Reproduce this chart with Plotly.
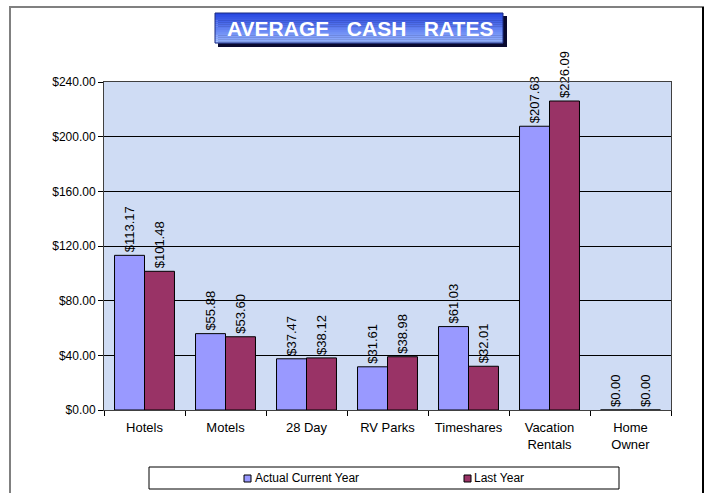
import plotly.graph_objects as go

categories = ["Hotels", "Motels", "28 Day", "RV Parks", "Timeshares", "Vacation<br>Rentals", "Home<br>Owner"]
actual_current_year = [113.17, 55.88, 37.47, 31.61, 61.03, 207.63, 0.00]
last_year = [101.48, 53.60, 38.12, 38.98, 32.01, 226.09, 0.00]
y_ticks = [0, 40, 80, 120, 160, 200, 240]
series_names = ["Actual Current Year", "Last Year"]
series_colors = ["#9999ff", "#993366"]

W, H = 710, 493
PL, PR, PT, PB = 104, 671, 82, 410  # plot area in pixels


def px(x):
    return (x - PL) / (PR - PL)


def py(y):
    return (PB - y) / (PB - PT)


fig = go.Figure()
for name, vals, col in zip(series_names, [actual_current_year, last_year], series_colors):
    fig.add_trace(go.Bar(
        x=categories, y=vals, name=name,
        marker=dict(color=col, line=dict(color="black", width=1)),
        text=["${:.2f}".format(v) for v in vals],
        textposition="outside", textangle=-90, constraintext="none",
        textfont=dict(family="Arial", size=13, color="black"),
        cliponaxis=False, showlegend=False,
    ))

shapes = []
# outer chart border
shapes.append(dict(type="rect", xref="paper", yref="paper",
                   x0=px(10), x1=px(703), y0=py(7), y1=py(500),
                   line=dict(color="#808080", width=2), fillcolor="rgba(0,0,0,0)", layer="below"))
shapes.append(dict(type="line", xref="paper", yref="paper",
                   x0=px(703), x1=px(703), y0=py(7), y1=py(500),
                   line=dict(color="black", width=2)))
# title box shadow
shapes.append(dict(type="rect", xref="paper", yref="paper",
                   x0=px(218), x1=px(507), y0=py(16), y1=py(47),
                   line=dict(width=0), fillcolor="#0a0a30"))
# title gradient box
n = 16
top_c = (40, 72, 225)
bot_c = (150, 180, 255)
y_top, y_bot = 13, 43
for i in range(n):
    t = i / (n - 1)
    c = tuple(int(top_c[k] + (bot_c[k] - top_c[k]) * t) for k in range(3))
    ya = y_top + (y_bot - y_top) * i / n
    yb = y_top + (y_bot - y_top) * (i + 1) / n
    shapes.append(dict(type="rect", xref="paper", yref="paper",
                       x0=px(215), x1=px(503), y0=py(ya), y1=py(yb + 0.3),
                       line=dict(width=0), fillcolor="rgb(%d,%d,%d)" % c))
shapes.append(dict(type="rect", xref="paper", yref="paper",
                   x0=px(215), x1=px(503), y0=py(y_top), y1=py(y_bot),
                   line=dict(color="#1a2a80", width=1), fillcolor="rgba(0,0,0,0)"))
# legend box
shapes.append(dict(type="rect", xref="paper", yref="paper",
                   x0=px(149), x1=px(619), y0=py(467), y1=py(489),
                   line=dict(color="black", width=1), fillcolor="white"))
# legend markers
for x0, col in [(244, series_colors[0]), (464, series_colors[1])]:
    shapes.append(dict(type="rect", xref="paper", yref="paper",
                       x0=px(x0), x1=px(x0 + 7), y0=py(475), y1=py(482),
                       line=dict(color="black", width=1), fillcolor=col))

sp = "\u00a0\u00a0\u00a0"
annotations = [
    dict(text="AVERAGE" + sp + "CASH" + sp + "RATES", xref="paper", yref="paper",
         x=px(360), y=py(28.5), xanchor="center", yanchor="middle", showarrow=False,
         font=dict(family="Arial", size=21, color="white", weight="bold")),
    dict(text=series_names[0], xref="paper", yref="paper", x=px(253), y=py(478.5),
         xanchor="left", yanchor="middle", showarrow=False,
         font=dict(family="Arial", size=12, color="black")),
    dict(text=series_names[1], xref="paper", yref="paper", x=px(472), y=py(478.5),
         xanchor="left", yanchor="middle", showarrow=False,
         font=dict(family="Arial", size=12, color="black")),
]

fig.update_layout(
    width=W, height=H,
    margin=dict(l=PL, r=W - PR, t=PT, b=H - PB, pad=0),
    paper_bgcolor="white", plot_bgcolor="#cfdcf4",
    barmode="group", bargap=0.26, bargroupgap=0,
    showlegend=False,
    shapes=shapes, annotations=annotations,
    font=dict(family="Arial", size=12, color="black"),
)
fig.update_yaxes(range=[0, 240], tickvals=y_ticks, tickformat="$.2f",
                 showgrid=True, gridcolor="black", gridwidth=1,
                 ticks="outside", ticklen=5, tickcolor="black",
                 showline=True, linecolor="#404040", linewidth=1, mirror=True,
                 zeroline=False, tickfont=dict(family="Arial", size=12, color="black"))
fig.update_xaxes(ticks="outside", tickson="boundaries", ticklen=5, tickcolor="black",
                 showline=True, linecolor="#404040", linewidth=1, mirror=True,
                 ticklabelstandoff=5,
                 tickfont=dict(family="Arial", size=13, color="black"))

fig.write_html("out.html", config={"displayModeBar": False},
               post_script="document.body.style.margin='0';document.body.style.overflow='hidden';")
